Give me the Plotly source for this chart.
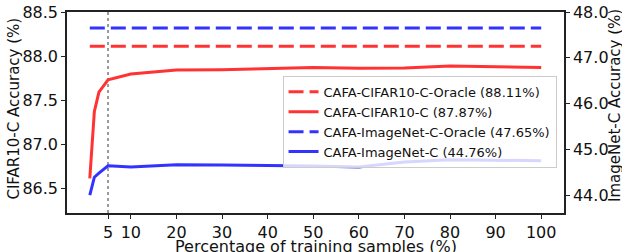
import plotly.graph_objects as go

x_vals = [1, 2, 3, 5, 10, 20, 30, 40, 50, 60, 70, 80, 90, 100]
cifar_vals = [86.61, 87.37, 87.59, 87.73, 87.795, 87.84, 87.845, 87.855, 87.87, 87.86, 87.865, 87.885, 87.88, 87.87]
imagenet_vals = [44.01, 44.40, 44.49, 44.65, 44.62, 44.67, 44.665, 44.66, 44.645, 44.62, 44.73, 44.78, 44.775, 44.76]
cifar_oracle = 88.11
imagenet_oracle = 47.65
x_ticks = [5, 10, 20, 30, 40, 50, 60, 70, 80, 90, 100]
left_ticks = [86.5, 87.0, 87.5, 88.0, 88.5]
right_ticks = [44.0, 45.0, 46.0, 47.0, 48.0]

RED = "#ff3333"
BLUE = "#3333ff"
FONT = "DejaVu Sans"

fig = go.Figure()
fig.add_trace(go.Scatter(x=x_vals, y=[cifar_oracle] * len(x_vals), mode="lines",
                         line=dict(color=RED, width=3, dash="15px,6px"),
                         name="CAFA-CIFAR10-C-Oracle (88.11%)", yaxis="y"))
fig.add_trace(go.Scatter(x=x_vals, y=cifar_vals, mode="lines",
                         line=dict(color=RED, width=3),
                         name="CAFA-CIFAR10-C (87.87%)", yaxis="y"))
fig.add_trace(go.Scatter(x=x_vals, y=[imagenet_oracle] * len(x_vals), mode="lines",
                         line=dict(color=BLUE, width=3, dash="15px,6px"),
                         name="CAFA-ImageNet-C-Oracle (47.65%)", yaxis="y2"))
fig.add_trace(go.Scatter(x=x_vals, y=imagenet_vals, mode="lines",
                         line=dict(color=BLUE, width=3),
                         name="CAFA-ImageNet-C (44.76%)", yaxis="y2"))

fig.add_shape(type="line", xref="x", yref="paper", x0=5, x1=5, y0=0, y1=1,
              line=dict(color="#999999", width=2, dash="dot"), layer="below")

axis_common = dict(showgrid=False, zeroline=False, showline=True, linecolor="#222222",
                   linewidth=1.5, ticks="outside", ticklen=4, tickcolor="#222222",
                   tickfont=dict(family=FONT, size=16, color="#111111"))

fig.update_layout(
    width=622, height=252,
    margin=dict(l=67, r=58, t=12, b=39, autoexpand=False),
    plot_bgcolor="white", paper_bgcolor="white",
    font=dict(family=FONT, color="#111111"),
    showlegend=True,
    xaxis=dict(**axis_common, range=[-4, 105], tickvals=x_ticks, mirror=True),
    yaxis=dict(**axis_common, range=[86.216, 88.5], tickvals=left_ticks, tickformat=".1f"),
    yaxis2=dict(**axis_common, range=[43.62, 48.0], tickvals=right_ticks, tickformat=".1f",
                overlaying="y", side="right"),
    legend=dict(x=0.985, y=0.682, xanchor="right", yanchor="top",
                bgcolor="rgba(255,255,255,0.8)", bordercolor="#cccccc", borderwidth=1,
                font=dict(family=FONT, size=13, color="#111111"), tracegroupgap=0),
    annotations=[
        dict(text="Percentage of training samples (%)", xref="paper", yref="paper",
             x=0.5, y=-0.168, xanchor="center", yanchor="middle", showarrow=False,
             font=dict(family=FONT, size=16, color="#111111")),
        dict(text="CIFAR10-C Accuracy (%)", xref="paper", yref="paper", textangle=-90,
             x=(14.5 - 67) / 497, y=0.517, xanchor="center", yanchor="middle", showarrow=False,
             font=dict(family=FONT, size=15, color="#111111")),
        dict(text="ImageNet-C Accuracy (%)", xref="paper", yref="paper", textangle=-90,
             x=(615.5 - 67) / 497, y=0.535, xanchor="center", yanchor="middle", showarrow=False,
             font=dict(family=FONT, size=15, color="#111111")),
    ],
)

fig.write_html("out.html", config={"displayModeBar": False},
               post_script="document.body.style.margin='0';document.body.style.overflow='hidden';")
